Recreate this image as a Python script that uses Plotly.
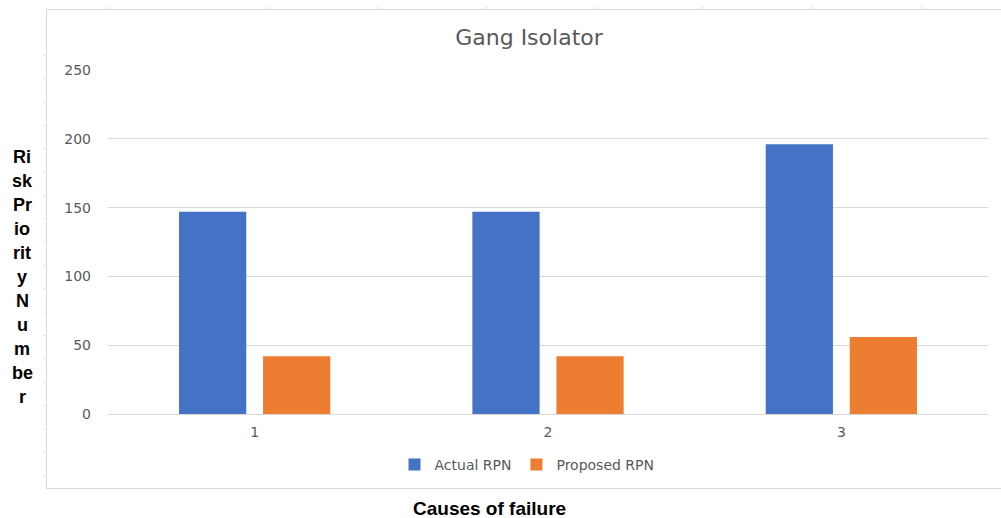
import plotly.graph_objects as go

# Chart data
causes = ["1", "2", "3"]
actual_rpn = [147, 147, 196]
proposed_rpn = [42, 42, 56]
y_ticks = [0, 50, 100, 150, 200, 250]

y_title_lines = ["Ri", "sk", "Pr", "io", "rit", "y", "N", "u", "m", "be", "r"]

W, H = 1001, 518
ML, MR, MT, MB = 108, 13, 70, 104
PW, PH = W - ML - MR, H - MT - MB


def px(x):
    return (x - ML) / PW


def py(y):
    return (H - MB - y) / PH


GRID = "#d9d9d9"
TEXT = "#595959"
CHART_FONT = "DejaVu Sans"
OUTER_FONT = "Liberation Sans, Arial"

fig = go.Figure()
fig.add_trace(go.Bar(x=causes, y=actual_rpn, name="Actual RPN",
                     marker=dict(color="#4472C4", line=dict(width=0))))
fig.add_trace(go.Bar(x=causes, y=proposed_rpn, name="Proposed RPN",
                     marker=dict(color="#ED7D31", line=dict(width=0))))

shapes = [
    # chart frame
    dict(type="rect", xref="paper", yref="paper",
         x0=px(46.5), x1=px(1010), y0=py(488.5), y1=py(9.5),
         line=dict(color="#d9d9d9", width=1), layer="below"),
]
# faint sheet-cell ticks along the frame
for tx in [107, 269, 378, 487, 595, 703, 812, 921]:
    shapes.append(dict(type="line", xref="paper", yref="paper",
                       x0=px(tx), x1=px(tx), y0=py(9), y1=py(6),
                       line=dict(color="#e6e6e6", width=1)))
ty = 32.0
while ty < 480:
    shapes.append(dict(type="line", xref="paper", yref="paper",
                       x0=px(43), x1=px(46), y0=py(ty), y1=py(ty),
                       line=dict(color="#e6e6e6", width=1)))
    ty += 23.35

annotations = []
for i, part in enumerate(y_title_lines):
    annotations.append(dict(
        text="<b>" + part + "</b>", xref="paper", yref="paper",
        x=px(22), y=py(157 + i * 24),
        xanchor="center", yanchor="middle", showarrow=False,
        font=dict(family=OUTER_FONT, size=18, color="#000000")))
annotations.append(dict(
    text="<b>Causes of failure</b>", xref="paper", yref="paper",
    x=px(489), y=py(508), xanchor="center", yanchor="middle", showarrow=False,
    font=dict(family=OUTER_FONT, size=19, color="#000000")))

fig.update_layout(
    width=W, height=H,
    margin=dict(l=ML, r=MR, t=MT, b=MB),
    paper_bgcolor="white", plot_bgcolor="white",
    barmode="group", bargap=0.427, bargroupgap=0.2,
    title=dict(text="Gang Isolator", x=px(529), xref="paper", xanchor="center",
               y=1 - 37 / H, yanchor="middle",
               font=dict(family=CHART_FONT, size=22, color=TEXT)),
    font=dict(family=CHART_FONT, color=TEXT),
    showlegend=True,
    legend=dict(orientation="h", x=px(527), y=py(465), xanchor="center",
                yanchor="middle", font=dict(size=14, color=TEXT),
                itemwidth=30, tracegroupgap=0),
    shapes=shapes,
    annotations=annotations,
)
fig.update_xaxes(type="category", showgrid=False, showline=False,
                 zeroline=False, ticks="", ticklabelstandoff=8,
                 tickfont=dict(size=14, color=TEXT))
fig.update_yaxes(range=[0, 250], tickvals=y_ticks, showgrid=True,
                 gridcolor=GRID, gridwidth=1, zeroline=True,
                 zerolinecolor=GRID, zerolinewidth=1, showline=False,
                 ticks="", ticklabelstandoff=16,
                 tickfont=dict(size=14, color=TEXT))

fig.write_html("out.html")
